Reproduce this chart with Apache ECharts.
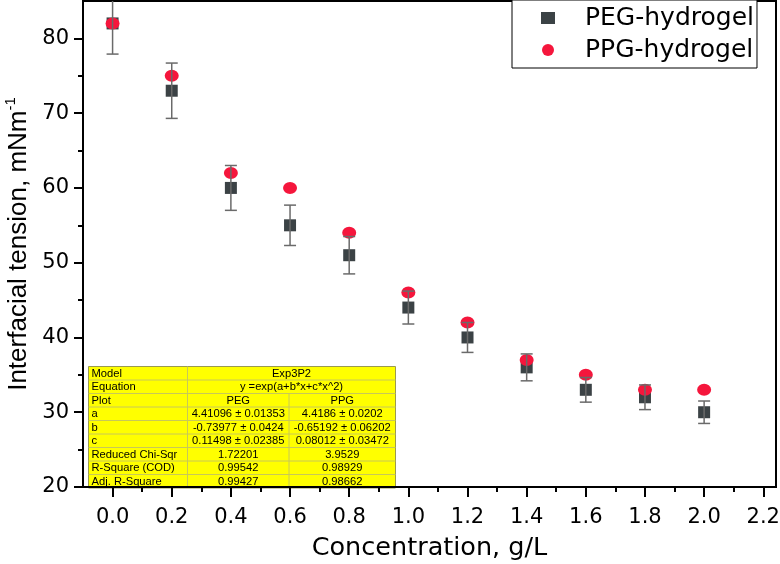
<!DOCTYPE html>
<html>
<head>
<meta charset="utf-8">
<script src="https://cdn.jsdelivr.net/npm/echarts@6/dist/echarts.min.js"></script>
<style>
html,body{margin:0;padding:0;background:#fff;}
#chart{width:780px;height:564px;}
</style>
</head>
<body>
<div id="chart"></div>
<script>
// ---- data ----
const concentration = [0.0, 0.2, 0.4, 0.6, 0.8, 1.0, 1.2, 1.4, 1.6, 1.8, 2.0];
const pegTension = [82, 73, 60, 55, 51, 44, 40, 36, 33, 32, 30];
const pegError = [4.1, 3.7, 3.0, 2.7, 2.5, 2.2, 2.0, 1.8, 1.65, 1.65, 1.5];
const ppgTension = [82, 75, 62, 60, 54, 46, 42, 37, 35, 33, 33];
const xMajorTicks = [0.0, 0.2, 0.4, 0.6, 0.8, 1.0, 1.2, 1.4, 1.6, 1.8, 2.0, 2.2];
const xMinorTicks = [0.1, 0.3, 0.5, 0.7, 0.9, 1.1, 1.3, 1.5, 1.7, 1.9, 2.1];
const yMajorTicks = [20, 30, 40, 50, 60, 70, 80];
const yMinorTicks = [25, 35, 45, 55, 65, 75];
const seriesNames = ['PEG-hydrogel', 'PPG-hydrogel'];
const xTitle = 'Concentration, g/L';
const yTitleMain = 'Interfacial tension, mNm';
const yTitleSup = '-1';
const tableRows = [
  ['Model', 'Exp3P2'],
  ['Equation', 'y =exp(a+b*x+c*x^2)'],
  ['Plot', 'PEG', 'PPG'],
  ['a', '4.41096 \u00b1 0.01353', '4.4186 \u00b1 0.0202'],
  ['b', '-0.73977 \u00b1 0.0424', '-0.65192 \u00b1 0.06202'],
  ['c', '0.11498 \u00b1 0.02385', '0.08012 \u00b1 0.03472'],
  ['Reduced Chi-Sqr', '1.72201', '3.9529'],
  ['R-Square (COD)', '0.99542', '0.98929'],
  ['Adj. R-Square', '0.99427', '0.98662']
];

// ---- build ----
const pegData = concentration.map((c, i) => [c, pegTension[i]]);
const ppgData = concentration.map((c, i) => [c, ppgTension[i]]);
const errData = concentration.map((c, i) => [c, pegTension[i], pegError[i]]);

const FONT = 'DejaVu Sans';
const TFONT = '11.2px "Liberation Sans"';

function renderErr(params, api) {
  const x = api.value(0), y = api.value(1), e = api.value(2);
  const hi = api.coord([x, y + e]);
  const lo = api.coord([x, y - e]);
  const hw = 6;
  const st = { stroke: '#6a6a6a', lineWidth: 1.5 };
  return {
    type: 'group',
    children: [
      { type: 'line', shape: { x1: hi[0], y1: hi[1], x2: lo[0], y2: lo[1] }, style: st },
      { type: 'line', shape: { x1: hi[0] - hw, y1: hi[1], x2: hi[0] + hw, y2: hi[1] }, style: st },
      { type: 'line', shape: { x1: lo[0] - hw, y1: lo[1], x2: lo[0] + hw, y2: lo[1] }, style: st }
    ]
  };
}

// table graphic (annotation box)
const tX = 86, tY = 364, rowH = 13.5, colW = [99, 101.5, 106.5];
const tW = colW[0] + colW[1] + colW[2];
const tableChildren = [];
tableChildren.push({ type: 'rect', shape: { x: 0, y: 0, width: tW, height: rowH * tableRows.length },
  style: { fill: '#ffff00', stroke: '#9a9a50', lineWidth: 1 } });
tableRows.forEach((row, r) => {
  const yMid = r * rowH + rowH / 2 + 0.5;
  if (r > 0) {
    tableChildren.push({ type: 'line', shape: { x1: 0, y1: r * rowH, x2: tW, y2: r * rowH },
      style: { stroke: '#c8c858', lineWidth: 1 } });
  }
  tableChildren.push({ type: 'line', shape: { x1: colW[0], y1: r * rowH, x2: colW[0], y2: (r + 1) * rowH },
    style: { stroke: '#c8c858', lineWidth: 1 } });
  tableChildren.push({ type: 'text', style: { text: row[0], x: 3, y: yMid, font: TFONT,
    fill: '#000', textAlign: 'left', textVerticalAlign: 'middle' } });
  if (row.length === 2) {
    tableChildren.push({ type: 'text', style: { text: row[1], x: colW[0] + (colW[1] + colW[2]) / 2, y: yMid,
      font: TFONT, fill: '#000', textAlign: 'center', textVerticalAlign: 'middle' } });
  } else {
    tableChildren.push({ type: 'line', shape: { x1: colW[0] + colW[1], y1: r * rowH, x2: colW[0] + colW[1], y2: (r + 1) * rowH },
      style: { stroke: '#c8c858', lineWidth: 1 } });
    tableChildren.push({ type: 'text', style: { text: row[1], x: colW[0] + colW[1] / 2, y: yMid,
      font: TFONT, fill: '#000', textAlign: 'center', textVerticalAlign: 'middle' } });
    tableChildren.push({ type: 'text', style: { text: row[2], x: colW[0] + colW[1] + colW[2] / 2, y: yMid,
      font: TFONT, fill: '#000', textAlign: 'center', textVerticalAlign: 'middle' } });
  }
});

const chart = echarts.init(document.getElementById('chart'), null, { renderer: 'canvas' });
const option = {
  backgroundColor: '#fff',
  animation: false,
  grid: { left: 83, right: 4, top: 1, bottom: 77, show: true, borderColor: '#000', borderWidth: 2,
    containLabel: false, outerBoundsMode: 'none' },
  legend: {
    orient: 'vertical', left: 512, top: 0,
    data: [{ name: seriesNames[0], icon: 'rect' }, { name: seriesNames[1], icon: 'circle' }],
    itemWidth: 14, itemHeight: 12, itemGap: 6,
    padding: [5, 3, 5, 29],
    borderColor: '#000', borderWidth: 1, backgroundColor: '#fff',
    textStyle: { fontFamily: FONT, fontSize: 25, color: '#000', lineHeight: 26, padding: [0, 0, 0, 25] }
  },
  xAxis: [{
    type: 'value', min: -0.1, max: 2.243, position: 'bottom',
    axisLine: { show: true, onZero: false, lineStyle: { color: '#000', width: 2 } },
    axisTick: { show: true, inside: false, length: 10, customValues: xMajorTicks, lineStyle: { color: '#000', width: 2 } },
    axisLabel: { show: true, customValues: xMajorTicks, formatter: v => v.toFixed(1), margin: 20,
      fontFamily: FONT, fontSize: 21, color: '#000' },
    splitLine: { show: false },
    name: xTitle, nameLocation: 'middle', nameGap: 48,
    nameTextStyle: { fontFamily: FONT, fontSize: 25.5, color: '#000' }
  }, {
    type: 'value', min: -0.1, max: 2.243, position: 'bottom',
    axisLine: { show: false, onZero: false },
    axisTick: { show: true, inside: false, length: 5, customValues: xMinorTicks, lineStyle: { color: '#000', width: 2 } },
    axisLabel: { show: false },
    splitLine: { show: false }
  }],
  yAxis: [{
    type: 'value', min: 20, max: 85, position: 'left',
    axisLine: { show: true, onZero: false, lineStyle: { color: '#000', width: 2 } },
    axisTick: { show: true, inside: false, length: 9, customValues: yMajorTicks, lineStyle: { color: '#000', width: 2 } },
    axisLabel: { show: true, customValues: yMajorTicks, margin: 14, fontFamily: FONT, fontSize: 21, color: '#000' },
    splitLine: { show: false },
    name: '{m|' + yTitleMain + '}{s|' + yTitleSup + '}', nameLocation: 'middle', nameGap: 49, nameRotate: 90,
    nameTextStyle: {
      rich: {
        m: { fontFamily: 'Liberation Sans', fontSize: 26, color: '#000', lineHeight: 30 },
        s: { fontFamily: 'Liberation Sans', fontSize: 15, color: '#000', verticalAlign: 'top', lineHeight: 20 }
      }
    }
  }, {
    type: 'value', min: 20, max: 85, position: 'left',
    axisLine: { show: false, onZero: false },
    axisTick: { show: true, inside: false, length: 5, customValues: yMinorTicks, lineStyle: { color: '#000', width: 2 } },
    axisLabel: { show: false },
    splitLine: { show: false }
  }],
  series: [
    {
      name: seriesNames[0], type: 'scatter', xAxisIndex: 0, yAxisIndex: 0, data: pegData,
      symbol: 'rect', symbolSize: 12, itemStyle: { color: '#3b4245', opacity: 1 }, z: 2
    },
    {
      name: seriesNames[1], type: 'scatter', xAxisIndex: 0, yAxisIndex: 0, data: ppgData,
      symbol: 'circle', symbolSize: [14, 12], itemStyle: { color: '#f5163c', opacity: 1 }, z: 3
    },
    {
      name: 'PEG error', type: 'custom', xAxisIndex: 0, yAxisIndex: 0, data: errData,
      renderItem: renderErr, clip: true, z: 4, silent: true
    }
  ],
  graphic: [{ type: 'group', left: tX, top: tY, z: 10, children: tableChildren }]
};
chart.setOption(option);
</script>
</body>
</html>
